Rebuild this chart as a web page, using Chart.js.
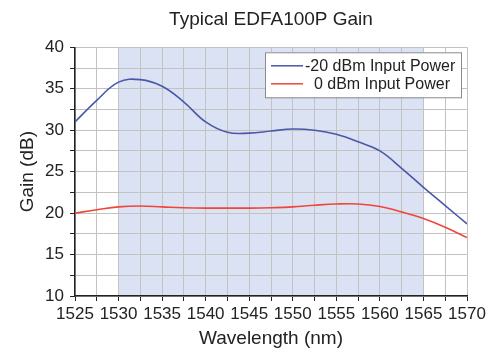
<!DOCTYPE html>
<html>
<head>
<meta charset="utf-8">
<script src="https://cdn.jsdelivr.net/npm/chart.js@4.4.1/dist/chart.umd.min.js"></script>
<style>
  html, body { margin: 0; padding: 0; background: #fff; }
  #wrap { width: 498px; height: 349px; }
</style>
</head>
<body>
<div id="wrap"><canvas id="gain"></canvas></div>
<script>
// wavelength (nm), read every 2.5 nm
const wavelengths = [1525, 1527.5, 1530, 1532.5, 1535, 1537.5, 1540, 1542.5, 1545, 1547.5,
                     1550, 1552.5, 1555, 1557.5, 1560, 1562.5, 1565, 1567.5, 1570];
// gain (dB) at -20 dBm input
const gainLow = [31.0, 33.6, 35.8, 36.1, 35.3, 33.4, 31.0, 29.75, 29.65, 29.9,
                 30.15, 30.0, 29.5, 28.6, 27.5, 25.4, 23.1, 20.9, 18.7];
// gain (dB) at 0 dBm input
const gainHigh = [20.0, 20.4, 20.75, 20.85, 20.75, 20.65, 20.6, 20.6, 20.6, 20.65,
                  20.75, 20.95, 21.1, 21.1, 20.8, 20.15, 19.35, 18.3, 17.05];
const seriesNames = ["-20 dBm Input Power", "  0 dBm Input Power"];
// C-band shading
const bandStart = 1530;
const bandEnd = 1565;

const FONT = "'Liberation Sans', Arial, sans-serif";

// shaded band drawn under the grid
const bandPlugin = {
  id: 'band',
  beforeDraw(chart) {
    const { ctx, chartArea, scales } = chart;
    const x0 = scales.x.getPixelForValue(bandStart);
    const x1 = scales.x.getPixelForValue(bandEnd);
    ctx.save();
    ctx.fillStyle = '#dbe2f3';
    ctx.fillRect(x0, chartArea.top, x1 - x0, chartArea.bottom - chartArea.top);
    ctx.restore();
  }
};

// boxed legend in the top right corner
const boxLegend = {
  id: 'boxLegend',
  afterDatasetsDraw(chart) {
    const { ctx, chartArea } = chart;
    const w = 196, h = 45;
    const x = chartArea.right - 6 - w;
    const y = chartArea.top + 5;
    ctx.save();
    ctx.fillStyle = '#fff';
    ctx.fillRect(x, y, w, h);
    ctx.strokeStyle = '#8a8a8a';
    ctx.lineWidth = 1;
    ctx.strokeRect(x + 0.5, y + 0.5, w, h);
    ctx.font = '16px ' + FONT;
    ctx.textBaseline = 'middle';
    chart.data.datasets.forEach((ds, i) => {
      const ly = y + 13.5 + i * 18;
      ctx.strokeStyle = ds.borderColor;
      ctx.lineWidth = 1.5;
      ctx.beginPath();
      ctx.moveTo(x + 6, ly);
      ctx.lineTo(x + 38, ly);
      ctx.stroke();
      ctx.fillStyle = '#222';
      ctx.fillText(ds.label, x + 40, ly + 1);
    });
    ctx.restore();
  }
};

new Chart(document.getElementById('gain'), {
  type: 'line',
  data: {
    labels: wavelengths,
    datasets: [{
      label: seriesNames[0],
      data: wavelengths.map((w, i) => ({ x: w, y: gainLow[i] })),
      borderColor: '#4a58a8',
      borderWidth: 1.6,
      pointRadius: 0,
      tension: 0.4
    }, {
      label: seriesNames[1],
      data: wavelengths.map((w, i) => ({ x: w, y: gainHigh[i] })),
      borderColor: '#f0463a',
      borderWidth: 1.6,
      pointRadius: 0,
      tension: 0.4
    }]
  },
  options: {
    responsive: true,
    maintainAspectRatio: false,
    animation: false,
    layout: { padding: { left: 0, right: 31, top: 0, bottom: 0 } },
    plugins: {
      legend: { display: false },
      tooltip: { enabled: false },
      title: {
        display: true,
        fullSize: false,
        text: 'Typical EDFA100P Gain',
        color: '#222',
        font: { family: FONT, size: 19, weight: 'normal' },
        padding: { top: 8, bottom: 16.5 }
      }
    },
    scales: {
      x: {
        type: 'linear',
        min: 1525,
        max: 1570,
        afterFit(scale) { scale.height = 53; },
        border: { color: '#222', width: 1.5 },
        grid: { color: '#c2c2c2', tickLength: 5, tickColor: '#222' },
        ticks: {
          stepSize: 2.5,
          autoSkip: false,
          maxRotation: 0,
          padding: 3,
          color: '#222',
          font: { family: FONT, size: 17 },
          callback: v => (v % 5 === 0 ? v : '')
        },
        title: {
          display: true,
          text: 'Wavelength (nm)',
          color: '#222',
          font: { family: FONT, size: 19 },
          padding: { top: 0, bottom: -1 }
        }
      },
      y: {
        min: 10,
        max: 40,
        afterFit(scale) { scale.width = 75; },
        border: { color: '#222', width: 1.5 },
        grid: { color: '#c2c2c2', tickLength: 5, tickColor: '#222' },
        ticks: {
          stepSize: 2.5,
          autoSkip: false,
          padding: 6,
          color: '#222',
          font: { family: FONT, size: 17 },
          callback: v => (v % 5 === 0 ? v : '')
        },
        title: {
          display: true,
          text: 'Gain (dB)',
          color: '#222',
          font: { family: FONT, size: 19 },
          padding: { top: 16, bottom: 0 }
        }
      }
    }
  },
  plugins: [bandPlugin, boxLegend]
});
</script>
</body>
</html>
